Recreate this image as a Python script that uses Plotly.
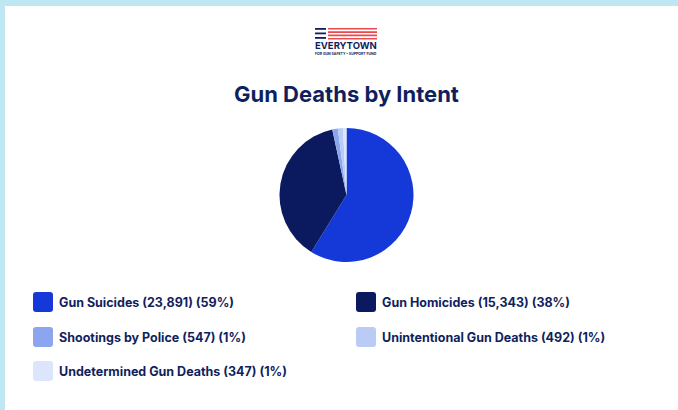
import plotly.graph_objects as go

W, H = 678, 410

labels = ["Gun Suicides", "Gun Homicides", "Shootings by Police",
          "Unintentional Gun Deaths", "Undetermined Gun Deaths"]
values = [23891, 15343, 547, 492, 347]
percents = ["59%", "38%", "1%", "1%", "1%"]
colors = ["#1539D8", "#0B1A5E", "#8CA5EF", "#BACBF6", "#DCE5FB"]

title_text = "Gun Deaths by Intent"
logo_text = "EVERYTOWN"
logo_sub = "FOR GUN SAFETY • SUPPORT FUND"

NAVY = "#101F5E"
RED = "#E9494E"
BORDER = "#BEE6F3"
FONT = "Inter, Open Sans, sans-serif"


def px(x):
    return x / W


def py(y):
    return (H - y) / H


fig = go.Figure()

fig.add_trace(go.Pie(
    labels=labels,
    values=values,
    sort=False,
    direction="clockwise",
    rotation=0,
    marker=dict(colors=colors, line=dict(width=0)),
    textinfo="none",
    hoverinfo="label+value+percent",
    domain=dict(x=[px(346.5 - 67), px(346.5 + 67)], y=[py(195 + 67), py(195 - 67)]),
    showlegend=False,
))

shapes = []
annotations = []

# light-blue border (top and left)
shapes.append(dict(type="rect", xref="paper", yref="paper", x0=0, x1=1,
                   y0=py(6), y1=1, fillcolor=BORDER, line=dict(width=0), layer="above"))
shapes.append(dict(type="rect", xref="paper", yref="paper", x0=0, x1=px(5),
                   y0=0, y1=1, fillcolor=BORDER, line=dict(width=0), layer="above"))

# logo stripes
for yy in [28, 32.5, 37]:
    shapes.append(dict(type="rect", xref="paper", yref="paper", x0=px(315), x1=px(326),
                       y0=py(yy + 1.8), y1=py(yy), fillcolor=NAVY, line=dict(width=0)))
for yy in [28, 31.3, 34.6, 37.9]:
    shapes.append(dict(type="rect", xref="paper", yref="paper", x0=px(328), x1=px(377),
                       y0=py(yy + 1.6), y1=py(yy), fillcolor=RED, line=dict(width=0)))

annotations.append(dict(x=px(346), y=py(46), xref="paper", yref="paper",
                        text="<b>" + logo_text + "</b>", showarrow=False,
                        xanchor="center", yanchor="middle",
                        font=dict(family=FONT, size=9.5, color=NAVY)))
annotations.append(dict(x=px(346), y=py(53.5), xref="paper", yref="paper",
                        text="<b>" + logo_sub + "</b>", showarrow=False,
                        xanchor="center", yanchor="middle",
                        font=dict(family=FONT, size=3.5, color=NAVY)))

# title
annotations.append(dict(x=px(346), y=py(94), xref="paper", yref="paper",
                        text="<b>" + title_text + "</b>", showarrow=False,
                        xanchor="center", yanchor="middle",
                        font=dict(family=FONT, size=22, color=NAVY)))


def rounded_rect(x0, y0, x1, y1, r):
    pts = [
        f"M {px(x0 + r)},{py(y0)}",
        f"L {px(x1 - r)},{py(y0)}",
        f"Q {px(x1)},{py(y0)} {px(x1)},{py(y0 + r)}",
        f"L {px(x1)},{py(y1 - r)}",
        f"Q {px(x1)},{py(y1)} {px(x1 - r)},{py(y1)}",
        f"L {px(x0 + r)},{py(y1)}",
        f"Q {px(x0)},{py(y1)} {px(x0)},{py(y1 - r)}",
        f"L {px(x0)},{py(y0 + r)}",
        f"Q {px(x0)},{py(y0)} {px(x0 + r)},{py(y0)}",
        "Z",
    ]
    return " ".join(pts)


col_x = [33, 356]
row_y = [302, 337, 371]
sq = 20
for i, (lab, val, pct, col) in enumerate(zip(labels, values, percents, colors)):
    cx = col_x[i % 2]
    cy = row_y[i // 2]
    shapes.append(dict(type="path", xref="paper", yref="paper",
                       path=rounded_rect(cx, cy - sq / 2, cx + sq, cy + sq / 2, 3),
                       fillcolor=col, line=dict(width=0)))
    annotations.append(dict(x=px(cx + sq + 4), y=py(cy), xref="paper", yref="paper",
                            text=f"<b>{lab} ({val:,}) ({pct})</b>", showarrow=False,
                            xanchor="left", yanchor="middle",
                            font=dict(family=FONT, size=12.5, color=NAVY)))

fig.update_layout(
    width=W, height=H,
    margin=dict(l=0, r=0, t=0, b=0),
    paper_bgcolor="white",
    plot_bgcolor="white",
    shapes=shapes,
    annotations=annotations,
)

fig.write_html("out.html",
               config={"displayModeBar": False},
               post_script="document.body.style.margin='0';document.body.style.overflow='hidden';")
